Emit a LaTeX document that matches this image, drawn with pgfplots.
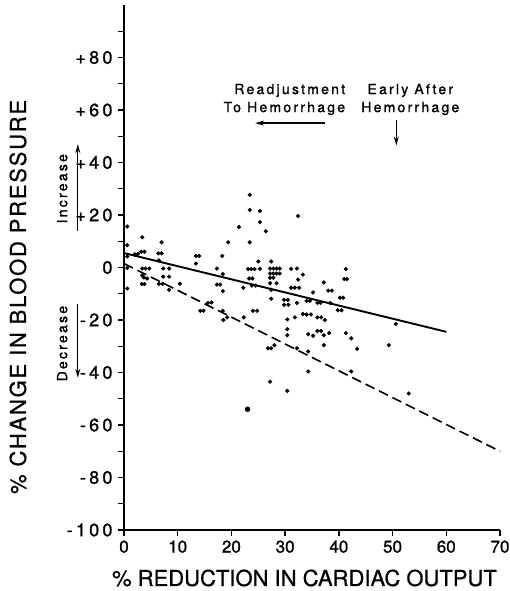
\documentclass[border=0pt]{standalone}
\usepackage{fontspec}
\setmainfont{TeX Gyre Heros}
\usepackage{pgfplots}
\pgfplotsset{compat=1.18}
\usetikzlibrary{arrows.meta}

\newcommand{\lettering}{\fontsize{14}{16}\selectfont\addfontfeature{LetterSpace=16,FakeBold=1.2}}

\begin{document}
\begin{tikzpicture}
\begin{axis}[
  scale only axis,
  width=376pt, height=525pt,
  xmin=0, xmax=70, ymin=-100, ymax=100,
  axis x line=bottom, axis y line=left,
  axis line style={-, line width=1.9pt},
  hide obscured x ticks=false, hide obscured y ticks=false,
  xtick={0,10,...,70},
  xticklabels={0,10,20,30,40,50,60,70},
  ytick={-100,-80,...,80},
  yticklabels={-100,-80,-60,-40,-20,0,+20,+40,+60,+80},
  minor ytick={-90,-70,...,90},
  tick align=outside,
  major tick length=6pt, minor tick length=6pt,
  tick style={line width=1.4pt, black},
  xticklabel style={font=\fontsize{17}{17}\selectfont\addfontfeature{FakeBold=1.2}, yshift=-1pt},
  yticklabel style={font=\fontsize{18}{18}\selectfont\addfontfeature{LetterSpace=18,FakeBold=1.2}, xshift=-2pt},
  clip=false,
]
% measurements
\addplot[only marks, mark=*, mark size=1.9pt, black] coordinates {
(0.6,15.6) (0.6,8.5) (0.6,4.2) (0.6,-0.2) (0.6,-8)
(3.4,11.5) (2.0,5.0) (2.6,5.2) (3.2,6) (3.8,6)
(6.4,5.4) (7.0,5.4) (7.0,9.6) (6.5,2.7)
(3.4,-0.4) (4.0,-0.4) (4.7,-0.4) (7.3,-0.4) (8.4,-0.4)
(3.4,-3) (3.7,-3.8) (4.3,-4.2) (7.3,-3.5) (8.4,-3.5)
(3.3,-6.3) (3.8,-6.3) (6.5,-6.2) (7.2,-6.2) (8.4,-8.5) (10.4,-6.2)
(13.4,4.4) (14.0,4.4) (13.4,1.5) (17.3,-0.4) (18.3,4.4) (19.4,9.6) (18.4,-2.5)
(17.3,-6.5) (17.9,-6.5) (18.4,-9)
(14.2,-16.5) (14.8,-16.5) (15.6,-13.5) (16.3,-13.3)
(18.4,-16.5) (18.5,-20) (19.2,-19)
(21.4,15.4) (23.4,27.7) (23.4,21.9) (25.3,21.5) (25.3,17.3) (26.4,13.8) (32.4,19.6)
(23.4,9.6) (25.0,2.3) (27.4,2.3)
(23.1,-0.6) (23.7,-0.6) (24.3,-0.6) (25.3,-0.5)
(27.2,-0.4) (27.8,-0.4) (28.4,-0.4) (29.0,-0.4)
(31.1,-0.5) (32.2,-0.4)
(27.2,-2.3) (27.8,-2.3) (28.4,-2.3) (29.0,-2.3)
(27.2,-3.9) (27.8,-3.9)
(23.3,-4.2) (23.9,-4.2)
(22.2,-7.7) (23.8,-6.9) (24.5,-6.9)
(27.2,-6) (28.4,-6)
(27.4,-8.5) (27.4,-11.9)
(33.3,-2.7) (32.4,-4.6)
(37.2,-5.7) (41.3,-0.6) (41.0,-4.4) (41.5,-4.4)
(38.0,-8.8) (38.7,-8.8) (35.2,-9.5)
(40.2,-11.5) (40.8,-11.5)
(39.8,-16.3) (40.5,-16.3)
(38.4,-13.5) (36.0,-13.5) (36.6,-13.5) (34,-12.7) (34.6,-12.7) (32.2,-13.5)
(29.8,-12.3) (30.5,-12.3) (29.8,-14.2) (30.6,-14.2)
(31.1,-7.7) (31.8,-7.7) (32.6,-7.7)
(24.0,-16.5) (24.8,-16.5) (22.3,-19)
(30.4,-19.8) (31.8,-19) (33.3,-17.7) (34.0,-17.9) (34.8,-17.9)
(36.0,-19) (36.7,-19) (37.4,-20)
(30.4,-23.5) (30.4,-25.8)
(34.3,-25.4) (35.2,-26) (36.0,-24.2) (36.7,-24.2) (37.2,-25.8) (38.2,-25)
(41.3,-25) (42.3,-27) (43.4,-31) (42.3,-39.6)
(37.2,-29.6)
(26.8,-30.8) (27.4,-30.8) (28.0,-29.6)
(32.2,-30.8) (34.3,-32)
(34.3,-39.6)
(27.2,-43.5) (30.4,-47)
(49.3,-29.6) (50.6,-21.5) (53,-48)
};
\addplot[only marks, mark=*, mark size=2.5pt, black] coordinates {(23,-54)};
% regression lines
\addplot[black, line width=1.9pt] coordinates {(0,5.5) (60,-24.5)};
\addplot[black, line width=1.6pt, dash pattern=on 10pt off 5pt] coordinates {(0,1.5) (70,-70)};

% axis titles
\node[font=\fontsize{22}{22}\selectfont\addfontfeature{FakeBold=0.8}, anchor=center]
  at ([yshift=-48pt]axis description cs:0.48,0) {\% REDUCTION IN CARDIAC OUTPUT};
\node[rotate=90, font=\fontsize{22}{22}\selectfont\addfontfeature{LetterSpace=8,FakeBold=0.8}, anchor=center]
  at ([xshift=-106pt]axis description cs:0,0.444) {\% CHANGE IN BLOOD PRESSURE};

% annotations
\node[anchor=east, align=right, font=\lettering, inner sep=0pt] at (axis cs:41.2,64)
  {Readjustment\\[2pt]To Hemorrhage};
\draw[-{Stealth[length=9pt,width=5pt]}, line width=1.3pt] (axis cs:37.4,55) -- (axis cs:24.4,55);
\node[align=center, font=\lettering, inner sep=0pt] at (axis cs:53.3,64)
  {Early After\\[2pt]Hemorrhage};
\draw[-{Stealth[length=9pt,width=5pt]}, line width=1.3pt] (axis cs:50.7,56) -- (axis cs:50.7,46.5);

\node[rotate=90, font=\lettering, inner sep=0pt] at (axis cs:-11.5,30) {Increase};
\draw[-{Stealth[length=9pt,width=5pt]}, line width=1.3pt] (axis cs:-8.6,14) -- (axis cs:-8.6,47);
\node[rotate=90, font=\lettering, inner sep=0pt] at (axis cs:-11.5,-29) {Decrease};
\draw[-{Stealth[length=9pt,width=5pt]}, line width=1.3pt] (axis cs:-8.6,-14) -- (axis cs:-8.6,-42);

\coordinate (O) at (rel axis cs:0,0);
\end{axis}
\pgfresetboundingbox
\path[use as bounding box] ([shift={(-124pt,-61pt)}]O) rectangle ++(510pt,591pt);
\end{tikzpicture}
\end{document}
